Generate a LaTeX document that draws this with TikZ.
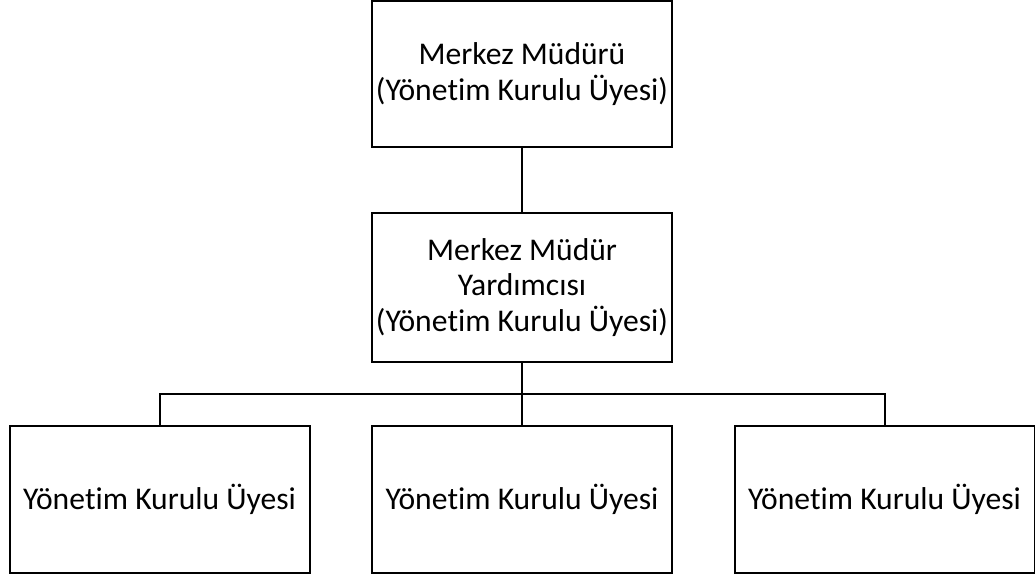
\documentclass[tikz,border=0pt]{standalone}
\usepackage{fontspec}
\setmainfont{Carlito}[Ligatures={NoCommon,NoRequired,NoContextual}]
\newcommand{\YKU}{Yöne\kern0pt{}tim Kurulu Üyesi}
\begin{document}
\begin{tikzpicture}[x=0.75pt,y=-0.75pt,
  box/.style={draw=black,line width=1.5pt,rectangle,align=center,inner sep=2pt,
    font=\fontsize{23.7}{26.5}\selectfont,minimum width=225pt},
  link/.style={draw=black,line width=1.5pt}]
\useasboundingbox (0,0) rectangle (1035,581);
\node[box,minimum height=109.5pt] (top) at (522,74) {Merkez Müdürü\\(\YKU)};
\node[box,minimum height=111.5pt] (mid) at (522,287.5) {Merkez Müdür\\Yardımcısı\\(\YKU)};
\node[box,minimum height=110pt] (b1) at (159.5,499.5) {\YKU};
\node[box,minimum height=110pt] (b2) at (522,499.5) {\YKU};
\node[box,minimum height=110pt] (b3) at (884.5,499.5) {\YKU};
\coordinate (bus) at (522,394);
\draw[link] (top) -- (mid);
\draw[link] (mid.south) -- (b2.north);
\draw[link] (b1.north) -- (b1.north |- bus) -- (b3.north |- bus) -- (b3.north);
\end{tikzpicture}
\end{document}
